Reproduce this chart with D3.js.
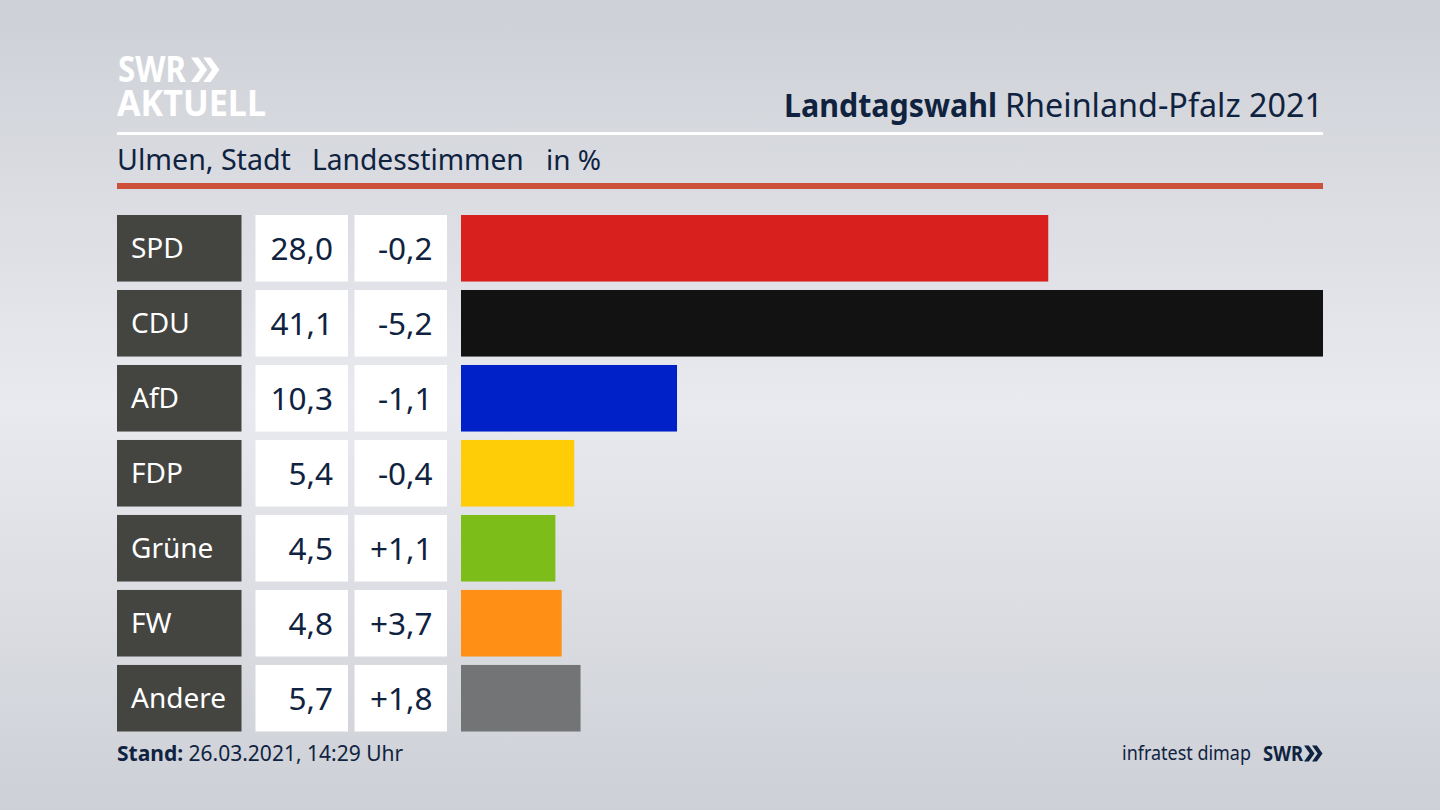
<!DOCTYPE html>
<html><head><meta charset="utf-8">
<script src="https://cdnjs.cloudflare.com/ajax/libs/d3/7.8.5/d3.min.js"></script>
<style>
html,body{margin:0;padding:0;background:#dfe1e6;overflow:hidden}
text{font-family:"Noto Sans","Open Sans",sans-serif}
</style></head><body><svg id="c" width="1440" height="810"></svg>
<script>
const parties=["SPD","CDU","AfD","FDP","Grüne","FW","Andere"];
const shares=[28.0,41.1,10.3,5.4,4.5,4.8,5.7];
const changes=["-0,2","-5,2","-1,1","-0,4","+1,1","+3,7","+1,8"];
const colors=["#d8201f","#121212","#0020c8","#ffcc08","#7cbd1a","#ff8f15","#737476"];
const fmt=v=>v.toFixed(1).replace(".",",");
const navy="#0f2340";
const svg=d3.select("#c");
const defs=svg.append("defs");
const g=defs.append("linearGradient").attr("id","bg").attr("x1",0).attr("x2",0).attr("y1",0).attr("y2",1);
[[0,"#cdd0d6"],[.5,"#e9eaef"],[1,"#cdd0d6"]].forEach(s=>g.append("stop").attr("offset",s[0]).attr("stop-color",s[1]));
svg.append("rect").attr("width",1440).attr("height",810).attr("fill","url(#bg)");

// logo
const chev=(x,y,s,fill,parent)=>{parent.append("path").attr("fill",fill)
 .attr("d",`M${x} ${y}h${.3*s}l${.36*s} ${.5*s}l${-.36*s} ${.5*s}h${-.3*s}l${.36*s} ${-.5*s}zM${x+.5*s} ${y}h${.3*s}l${.36*s} ${.5*s}l${-.36*s} ${.5*s}h${-.3*s}l${.36*s} ${-.5*s}z`);};
const logo=svg.append("text").attr("font-size",36).attr("font-weight",700).attr("fill","#fff");
logo.append("tspan").attr("x",118).attr("y",82).attr("textLength",68).attr("lengthAdjust","spacingAndGlyphs").text("SWR");
logo.append("tspan").attr("x",117).attr("y",116).attr("textLength",149).attr("lengthAdjust","spacingAndGlyphs").text("AKTUELL");
chev(191,57.5,24.5,"#fff",svg);

// header
svg.append("text").attr("x",784).attr("y",117).attr("font-size",31.5).attr("font-weight",700).attr("fill",navy).attr("textLength",213).attr("lengthAdjust","spacingAndGlyphs").text("Landtagswahl");
svg.append("text").attr("x",1005).attr("y",117).attr("font-size",32).attr("fill",navy).attr("textLength",318).attr("lengthAdjust","spacingAndGlyphs").text("Rheinland-Pfalz 2021");
svg.append("rect").attr("x",117).attr("y",132).attr("width",1206).attr("height",3).attr("fill","#fff");
[["Ulmen, Stadt",117,28.6],["Landesstimmen",312,28.2],["in %",546,28]].forEach(d=>
 svg.append("text").attr("x",d[1]).attr("y",170).attr("font-size",d[2]).attr("fill",navy).text(d[0]));
svg.append("rect").attr("x",117).attr("y",183).attr("width",1206).attr("height",6).attr("fill","#cc5138");

// rows
const y=d3.scaleBand().domain(parties).range([215,731.5]).paddingInner(.1125).paddingOuter(0);
const x=d3.scaleLinear().domain([0,41.1]).range([461,1323]);
const rows=svg.selectAll("g.row").data(parties).join("g").attr("class","row")
 .attr("transform",d=>`translate(0,${y(d)})`);
const h=y.bandwidth();
rows.append("rect").attr("x",117).attr("width",124.5).attr("height",h).attr("fill","#444441");
rows.append("rect").attr("x",255.5).attr("width",92.5).attr("height",h).attr("fill","#fff");
rows.append("rect").attr("x",354.5).attr("width",92.5).attr("height",h).attr("fill","#fff");
rows.append("rect").attr("x",x(0)).attr("width",(d,i)=>x(shares[i])-x(0)).attr("height",h).attr("fill",(d,i)=>colors[i]);
rows.append("text").attr("x",131).attr("y",h/2+10).attr("font-size",28).attr("fill","#fff").text(d=>d);
rows.append("text").attr("x",333).attr("y",h/2+11.5).attr("text-anchor","end").attr("font-size",31.5).attr("fill",navy).text((d,i)=>fmt(shares[i]));
rows.append("text").attr("x",432.5).attr("y",h/2+11.5).attr("text-anchor","end").attr("font-size",31.5).attr("fill",navy).text((d,i)=>changes[i]);

// footer
const st=svg.append("text").attr("x",117).attr("y",761).attr("font-size",21).attr("fill",navy);
st.append("tspan").attr("font-weight",700).text("Stand:");
st.append("tspan").text(" 26.03.2021, 14:29 Uhr");
svg.append("text").attr("x",1122).attr("y",760).attr("font-size",20).attr("fill",navy).attr("textLength",129).attr("lengthAdjust","spacingAndGlyphs").text("infratest dimap");
svg.append("text").attr("x",1263).attr("y",761).attr("font-size",21).attr("font-weight",700).attr("fill",navy).attr("textLength",40).attr("lengthAdjust","spacingAndGlyphs").text("SWR");
chev(1304,745.5,16,navy,svg);
</script></body></html>
